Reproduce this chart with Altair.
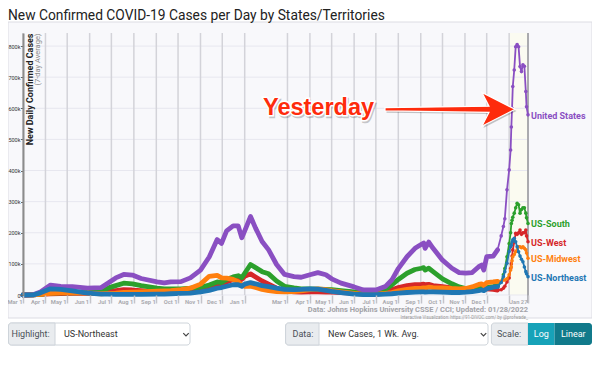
import altair as alt
import pandas as pd

# ---------------- data (values in thousands of cases, 7-day average) ----------------
dates = [
    "2020-03-01", "2020-03-15", "2020-03-25", "2020-04-08", "2020-04-22", "2020-05-08",
    "2020-05-29", "2020-06-17", "2020-06-26", "2020-07-07", "2020-07-18", "2020-07-30",
    "2020-08-11", "2020-09-02", "2020-09-12", "2020-09-21", "2020-10-05", "2020-10-18",
    "2020-11-01", "2020-11-13", "2020-11-24", "2020-11-30", "2020-12-07", "2020-12-16",
    "2020-12-23", "2020-12-28", "2021-01-01", "2021-01-09", "2021-01-16", "2021-01-25",
    "2021-02-03", "2021-02-14", "2021-02-25", "2021-03-10", "2021-03-20", "2021-04-01",
    "2021-04-12", "2021-04-23", "2021-05-01", "2021-05-14", "2021-06-01", "2021-06-14",
    "2021-07-01", "2021-07-14", "2021-07-23", "2021-08-01", "2021-08-13", "2021-08-24",
    "2021-09-02", "2021-09-05", "2021-09-07", "2021-09-12", "2021-09-18", "2021-10-01",
    "2021-10-14", "2021-10-24", "2021-11-02", "2021-11-11", "2021-11-20", "2021-11-24",
    "2021-11-27", "2021-12-01", "2021-12-10", "2021-12-16", "2021-12-21", "2021-12-24",
    "2021-12-26", "2021-12-29", "2022-01-01", "2022-01-03", "2022-01-04", "2022-01-05",
    "2022-01-06", "2022-01-08", "2022-01-10", "2022-01-12", "2022-01-14", "2022-01-16",
    "2022-01-18", "2022-01-20", "2022-01-22", "2022-01-24", "2022-01-25", "2022-01-27",
]

united_states = [
    0, 0.5, 10, 32, 28, 27,
    22, 24, 38, 55, 66, 64,
    53, 42, 39, 42, 43, 55,
    80, 122, 178, 166, 206, 222,
    222, 184, 206, 252, 215, 172,
    145, 98, 66, 59, 57, 65,
    72, 65, 52, 38, 26, 16,
    16, 27, 48, 85, 123, 150,
    163, 167, 150, 170, 150, 112,
    86, 72, 70, 72, 91, 96,
    80, 123, 125, 145, 190, 220,
    245, 338, 402, 466, 540, 600,
    670, 723, 798, 805, 798, 734,
    718, 740, 735, 654, 605, 579,
]

us_south = [
    0, 0.1, 2, 6, 7, 7,
    8, 14, 22, 30, 38, 36,
    30, 22, 20, 20, 20, 22,
    25, 32, 42, 40, 50, 58,
    62, 56, 70, 98, 88, 75,
    68, 45, 28, 23, 20, 20,
    19, 18, 17, 14, 10, 8,
    9, 18, 32, 50, 70, 82,
    86, 88, 80, 86, 75, 52,
    36, 26, 21, 19, 20, 21,
    18, 24, 27, 30, 42, 65,
    85, 123, 165, 200, 230, 240,
    250, 263, 280, 295, 290, 263,
    275, 280, 280, 263, 248, 230,
]

us_west = [
    0, 0.2, 2, 4, 4.5, 5,
    5, 7, 10, 14, 17, 16,
    14, 10, 9, 9, 10, 11,
    14, 22, 33, 33, 42, 50,
    55, 50, 60, 68, 58, 45,
    35, 22, 13, 10, 9, 10,
    10, 9, 9, 8, 6, 5,
    6, 11, 17, 24, 30, 33,
    34, 35, 33, 34, 30, 27,
    23, 20, 18, 19, 20, 20,
    18, 20, 18, 16, 17, 22,
    28, 42, 55, 85, 100, 125,
    145, 170, 198, 195, 200, 209,
    195, 200, 200, 209, 190, 171,
]

us_midwest = [
    0, 0.1, 2, 5, 7, 8,
    6, 4, 5, 6, 8, 9,
    10, 12, 13, 14, 17, 22,
    35, 60, 63, 55, 54, 50,
    43, 32, 28, 28, 24, 18,
    14, 11, 10, 11, 13, 17,
    20, 17, 14, 10, 5, 3,
    3, 5, 8, 13, 18, 21,
    22, 23, 22, 25, 24, 23,
    21, 20, 21, 26, 34, 36,
    30, 40, 42, 44, 45, 48,
    48, 52, 65, 80, 90, 110,
    123, 130, 139, 145, 155, 155,
    152, 155, 150, 145, 135, 118,
]

us_northeast = [
    0, 0.2, 7, 20, 18, 13,
    6, 3, 2.5, 2, 2, 2,
    2, 3, 3, 4, 5, 6,
    10, 15, 22, 24, 28, 33,
    33, 28, 35, 40, 36, 30,
    27, 22, 18, 17, 18, 20,
    19, 15, 12, 8, 3, 1.5,
    1.5, 2.5, 4, 6, 8, 9,
    10, 10, 9, 10, 10, 9,
    8, 8, 9, 11, 14, 16,
    14, 20, 25, 27, 40, 59,
    75, 102, 140, 155, 160, 170,
    177, 182, 171, 155, 139, 125,
    115, 107, 90, 75, 68, 59,
]

series_names = ["United States", "US-South", "US-West", "US-Midwest", "US-Northeast"]
series_colors = ["#8a4fc2", "#2ca02c", "#d62728", "#ff7f0e", "#1f77b4"]
draw_order = ["US-West", "US-South", "US-Midwest", "United States", "US-Northeast"]

x_tick_dates = [
    "2020-03-01", "2020-04-01", "2020-05-01", "2020-06-01", "2020-07-01", "2020-08-01",
    "2020-09-01", "2020-10-01", "2020-11-01", "2020-12-01", "2021-01-01",
    "2021-03-01", "2021-04-01", "2021-05-01", "2021-06-01", "2021-07-01", "2021-08-01",
    "2021-09-01", "2021-10-01", "2021-11-01", "2021-12-01", "2022-01-01", "2022-01-27",
]
y_tick_values = [0, 100, 200, 300, 400, 500, 600, 700, 800]
recent_band = ["2022-01-01", "2022-01-27"]
x_domain = ["2020-03-01", "2022-01-27"]
y_domain = [0, 842]
split_date = "2021-12-16"

# ---------------- tables built from the arrays ----------------
series_values = {
    "United States": united_states,
    "US-South": us_south,
    "US-West": us_west,
    "US-Midwest": us_midwest,
    "US-Northeast": us_northeast,
}
for name, vals in series_values.items():
    assert len(vals) == len(dates), (name, len(vals), len(dates))

color_of = dict(zip(series_names, series_colors))


def dt(s):
    y, m, d = (int(p) for p in s.split("-"))
    return alt.DateTime(year=y, month=m, date=d, utc=True)


W, H = 505, 262
xscale = alt.Scale(type="utc", domain=[dt(x_domain[0]), dt(x_domain[1])], nice=False)
yscale = alt.Scale(domain=y_domain, nice=False, zero=True)

FONT = "Roboto"

x_axis = alt.Axis(
    values=[dt(s) for s in x_tick_dates],
    labelExpr="utcFormat(datum.value, '%Y-%m-%d') == '2022-01-01' ? '' : utcFormat(datum.value, '%b %-d')",
    title=None, grid=False, domain=False,
    tickSize=8, tickColor="#c4c4ca", tickWidth=1.5,
    labelAlign="right", labelBaseline="top", labelPadding=-5, labelOffset=-1,
    labelFontSize=5.8, labelColor="#ababb0", labelFontWeight="bold", labelFont=FONT,
    labelOverlap=False, labelFlush=False, zindex=1,
)
y_axis = alt.Axis(
    values=y_tick_values,
    labelExpr="datum.value == 0 ? '0' : datum.value + 'k'",
    title=None, grid=False, domain=True, domainColor="#8c8c8c", domainWidth=2,
    tickSize=2.5, tickColor="#666", labelPadding=0.5, labelFontSize=5.5, labelColor="#333",
    labelFont=FONT, zindex=1,
)


def X(field):
    return alt.X(field, scale=xscale, axis=x_axis)


def Y(field):
    return alt.Y(field, scale=yscale, axis=y_axis)


one = pd.DataFrame({"k": [0]})


def box(x, x2, y, y2, **kw):
    return alt.Chart(one).mark_rect(**kw).encode(
        x=alt.value(x), x2=alt.value(x2), y=alt.value(y), y2=alt.value(y2))


def txt(text, x, y, **kw):
    kw.setdefault("font", FONT)
    return alt.Chart(one).mark_text(text=text, **kw).encode(x=alt.value(x), y=alt.value(y))


def chevron(x, y):
    return alt.Chart(one).mark_point(
        shape="M -1 -0.5 L 0 0.5 L 1 -0.5", filled=False, stroke="#444", strokeWidth=1.2,
        size=30, opacity=1).encode(x=alt.value(x), y=alt.value(y))


layers = []

# chart frame
layers.append(box(-15, 569, -11, 285, fill="#f8f8fb", stroke="#dcdce3", strokeWidth=1))

# recent-days band
band_df = pd.DataFrame({"start": [recent_band[0]], "end": [recent_band[1]]})
layers.append(alt.Chart(band_df).mark_rect(fill="#fbfbf1").encode(
    x=X("start:T"), x2="end:T", y=alt.value(0), y2=alt.value(H)))

# gridlines
layers.append(alt.Chart(pd.DataFrame({"value": y_tick_values})).mark_rule(
    color="#e7e7ef", strokeWidth=1).encode(y=Y("value:Q")))
layers.append(alt.Chart(pd.DataFrame({"date": x_tick_dates})).mark_rule(
    color="#d3d3d9", strokeWidth=1.5).encode(x=X("date:T")))
layers.append(alt.Chart(pd.DataFrame({"date": [x_domain[1]]})).mark_rule(
    color="#9a9a9e", strokeWidth=1.5).encode(x=X("date:T"), y=alt.value(0), y2=alt.value(H + 8)))

# series
for name in draw_order:
    vals = series_values[name]
    sdf = pd.DataFrame({"date": dates, "value": vals})
    thick = sdf[sdf["date"] <= split_date]
    thin = sdf[sdf["date"] >= split_date]
    c = color_of[name]
    layers.append(alt.Chart(thick).mark_line(
        color=c, strokeWidth=4.8, strokeCap="round", strokeJoin="round").encode(
        x=X("date:T"), y=Y("value:Q")))
    layers.append(alt.Chart(thin).mark_line(
        color=c, strokeWidth=1.8, strokeJoin="round").encode(x=X("date:T"), y=Y("value:Q")))
    layers.append(alt.Chart(thin).mark_point(
        color=c, filled=True, size=13, opacity=1).encode(x=X("date:T"), y=Y("value:Q")))

# end labels
last_df = pd.DataFrame({
    "series": series_names,
    "date": [dates[-1]] * len(series_names),
    "value": [series_values[n][-1] for n in series_names],
})
layers.append(alt.Chart(last_df).mark_text(
    align="left", baseline="middle", dx=3, dy=1, fontSize=9, fontWeight="bold", font=FONT).encode(
    x=X("date:T"), y=Y("value:Q"),
    text="series:N",
    color=alt.Color("series:N", scale=alt.Scale(domain=series_names, range=series_colors), legend=None)))

# title and y-axis title
layers.append(txt("New Confirmed COVID-19 Cases per Day by States/Territories", -15, -13,
                  align="left", baseline="alphabetic", fontSize=13.8, color="#222"))
layers.append(txt("New Daily Confirmed Cases", 6.5, 0.5, angle=270, align="right",
                  baseline="middle", fontSize=9, fontWeight="bold", color="#222"))
layers.append(txt("(7-day Average)", 14.5, 0.5, angle=270, align="right",
                  baseline="middle", fontSize=7.5, color="#8a8a8a"))

# "Yesterday" annotation with arrow
ARROW = "M -1 -0.025 L 0.6 -0.048 L 0.49 -0.26 L 1 0 L 0.49 0.26 L 0.6 0.048 L -1 0.025 Z"
layers.append(alt.Chart(one).mark_point(
    shape=ARROW, filled=True, fill="#000", opacity=0.22, size=16900, strokeWidth=0).encode(
    x=alt.value(428.5), y=alt.value(78)))
layers.append(alt.Chart(one).mark_point(
    shape=ARROW, filled=True, fill="#fe2b0c", stroke="white", strokeWidth=1.2, opacity=1,
    size=16900).encode(x=alt.value(427), y=alt.value(76.3)))
layers.append(txt("Yesterday", 241.3, 83.5, align="left", baseline="alphabetic", fontSize=23.5,
                  fontWeight="bold", font="Liberation Sans", color="#000", opacity=0.2,
                  stroke="#000", strokeWidth=2.5))
layers.append(txt("Yesterday", 240, 82, align="left", baseline="alphabetic", fontSize=23.5,
                  fontWeight="bold", font="Liberation Sans", color="white", stroke="white",
                  strokeWidth=3))
layers.append(txt("Yesterday", 240, 82, align="left", baseline="alphabetic", fontSize=23.5,
                  fontWeight="bold", font="Liberation Sans", color="#fe2b0c"))

# source notes
layers.append(txt("Data: Johns Hopkins University CSSE / CCI; Updated: 01/28/2022", 505, 277,
                  align="right", baseline="middle", fontSize=7.5, fontWeight="bold", color="#a3a3a8"))
layers.append(txt("Interactive Visualization: https://91-DIVOC.com/ by @profwade_", 505, 284.5,
                  align="right", baseline="middle", fontSize=4.5, color="#9a9a9a"))

# control bar
BY, BY2 = 290, 312
BC = (BY + BY2) / 2
layers.append(box(-14.5, 167, BY, BY2, fill="white", stroke="#ced4da", cornerRadius=3))
layers.append(box(-14.5, 32, BY, BY2, fill="#e9ecef", stroke="#ced4da",
                  cornerRadiusTopLeft=3, cornerRadiusBottomLeft=3))
layers.append(txt("Highlight:", -11.5, BC, align="left", baseline="middle", fontSize=9, color="#495057"))
layers.append(txt("US-Northeast", 41, BC, align="left", baseline="middle", fontSize=9, color="#333"))
layers.append(chevron(163, BC + 0.5))

layers.append(box(262.6, 465, BY, BY2, fill="white", stroke="#ced4da", cornerRadius=3))
layers.append(box(262.6, 296, BY, BY2, fill="#e9ecef", stroke="#ced4da",
                  cornerRadiusTopLeft=3, cornerRadiusBottomLeft=3))
layers.append(txt("Data:", 269.5, BC, align="left", baseline="middle", fontSize=9, color="#495057"))
layers.append(txt("New Cases, 1 Wk. Avg.", 305, BC, align="left", baseline="middle", fontSize=9, color="#333"))
layers.append(chevron(460.5, BC + 0.5))

layers.append(box(468.4, 505, BY, BY2, fill="#e9ecef", stroke="#ced4da",
                  cornerRadiusTopLeft=3, cornerRadiusBottomLeft=3))
layers.append(txt("Scale:", 474, BC, align="left", baseline="middle", fontSize=9, color="#495057"))
layers.append(box(505, 531.5, BY, BY2, fill="#17a2b8"))
layers.append(box(531.5, 569, BY, BY2, fill="#117a8b", cornerRadiusTopRight=3, cornerRadiusBottomRight=3))
layers.append(txt("Log", 518.3, BC, align="center", baseline="middle", fontSize=9, color="white"))
layers.append(txt("Linear", 550.3, BC, align="center", baseline="middle", fontSize=9, color="white"))

chart = alt.layer(*layers).properties(
    width=W, height=H,
    autosize=alt.AutoSizeParams(type="none"),
    padding={"left": 15, "top": 25, "right": 64, "bottom": 53},
    background="white",
).configure_view(strokeWidth=0)

chart.save("out.html", embed_options={"renderer": "svg", "actions": False})
